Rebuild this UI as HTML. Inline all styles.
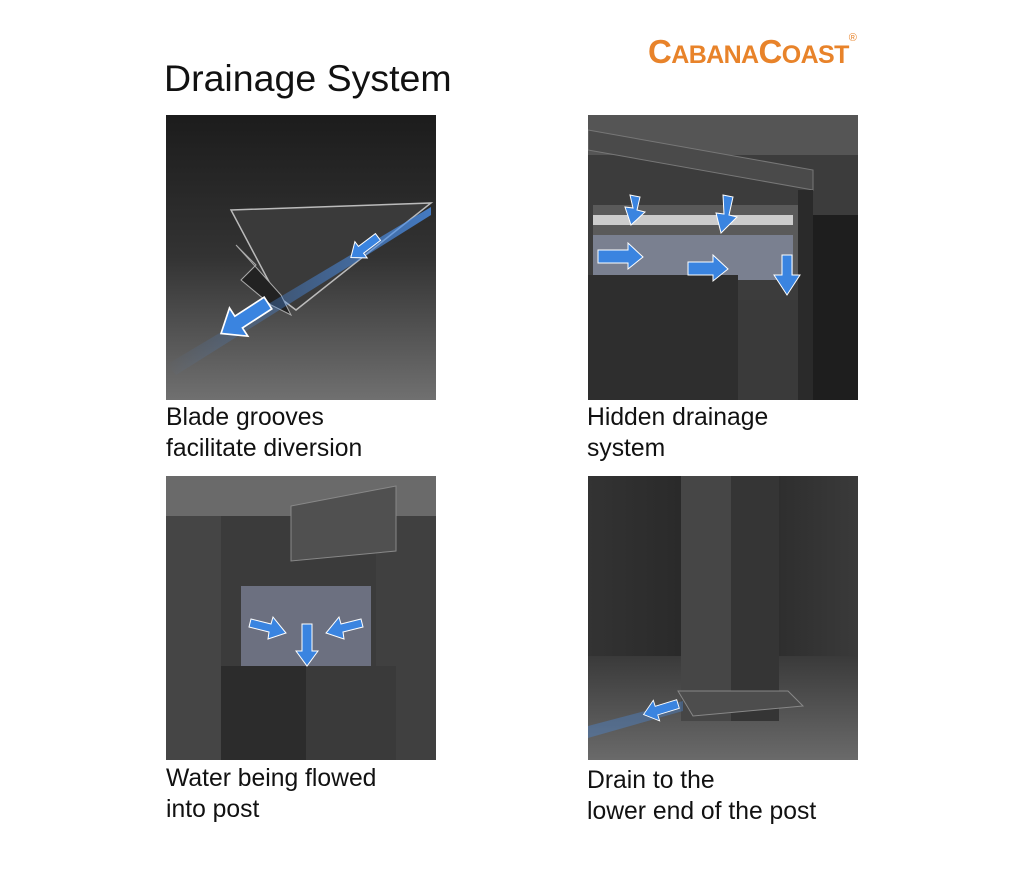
<!DOCTYPE html>
<html><head><style>
body{margin:0;width:1024px;height:878px;background:#fff;position:relative;overflow:hidden;font-family:"Liberation Sans",Arial,sans-serif}
.t{position:absolute;font-size:24.7px;color:#111;line-height:31px}
svg{position:absolute}
</style></head><body>
<div style="position:absolute;left:648px;top:30px;color:#e8832a;font-weight:bold;font-size:33px;letter-spacing:-0.6px;line-height:36px">C<span style="font-size:25px">ABANA</span>C<span style="font-size:25px">OAST</span><sup style="font-size:11px;font-weight:normal;position:relative;top:-10px;letter-spacing:0">®</sup></div>
<div style="position:absolute;left:164px;top:57px;font-size:37.5px;color:#111">Drainage System</div>

<svg style="left:166px;top:115px" width="270" height="285">
<defs><linearGradient id="g1" x1="0" y1="0" x2="0" y2="1"><stop offset="0" stop-color="#1c1c1c"/><stop offset="0.5" stop-color="#333"/><stop offset="1" stop-color="#707070"/></linearGradient>
<linearGradient id="b" x1="0" y1="0" x2="1" y2="0"><stop offset="0" stop-color="#4a8ee8" stop-opacity="0"/><stop offset="1" stop-color="#4a8ee8" stop-opacity=".8"/></linearGradient></defs>
<rect width="270" height="285" fill="url(#g1)"/>
<polygon points="65,95 265,88 130,195 110,180" fill="#3a3a3a" stroke="#bbb" stroke-width="1.5"/>
<polygon points="70,130 90,150 75,165 105,190 125,200 115,180" fill="#222" stroke="#aaa"/>
<polygon points="0,250 265,92 265,100 10,260" fill="url(#b)"/>
<g fill="#3a84e0" stroke="#fff" stroke-width="1.2">
<polygon transform="translate(102,188) rotate(147) scale(1.4)" points="0,-5 25,-5 25,-12 40,0 25,12 25,5 0,5"/>
<polygon transform="translate(212,122) rotate(143) scale(0.85)" points="0,-5 25,-5 25,-12 40,0 25,12 25,5 0,5"/>
</g>
</svg>
<div class="t" style="left:166px;top:402px">Blade grooves<br>facilitate diversion</div>

<svg style="left:588px;top:115px" width="270" height="285">
<rect width="270" height="285" fill="#3c3c3c"/>
<rect width="270" height="40" fill="#555"/>
<polygon points="0,15 225,55 225,75 0,35" fill="#4a4a4a" stroke="#777"/>
<rect x="5" y="90" width="205" height="70" fill="#5a5a5a"/>
<rect x="5" y="100" width="200" height="10" fill="#ccc"/>
<rect x="5" y="120" width="200" height="45" fill="#7a8090"/>
<rect x="0" y="160" width="150" height="125" fill="#2e2e2e"/>
<rect x="150" y="185" width="70" height="100" fill="#3a3a3a"/>
<rect x="220" y="100" width="50" height="185" fill="#1e1e1e"/>
<rect x="210" y="75" width="15" height="210" fill="#2a2a2a"/>
<g fill="#3a84e0" stroke="#fff"><polygon points="10,135 40,135 40,128 55,142 40,154 40,148 10,148"/><polygon points="100,147 125,147 125,140 140,154 125,166 125,160 100,160"/><polygon points="194,140 204,140 204,160 212,160 199,180 186,160 194,160"/><polygon points="42,80 52,82 49,95 57,97 43,110 37,92 45,93"/><polygon points="135,80 145,82 141,100 149,102 133,118 128,98 136,99"/></g>
</svg>
<div class="t" style="left:587px;top:402px">Hidden drainage<br>system</div>

<svg style="left:166px;top:476px" width="270" height="284">
<rect width="270" height="284" fill="#3b3b3b"/>
<rect width="270" height="40" fill="#6a6a6a"/>
<rect x="0" y="40" width="55" height="244" fill="#454545"/>
<rect x="210" y="40" width="60" height="244" fill="#404040"/>
<rect x="75" y="110" width="130" height="80" fill="#6c7080"/>
<polygon points="55,190 140,190 140,284 55,284" fill="#2c2c2c"/>
<polygon points="140,190 230,190 230,284 140,284" fill="#3a3a3a"/>
<polygon points="125,30 230,10 230,75 125,85" fill="#505050" stroke="#888"/>
<g fill="#3a84e0" stroke="#fff"><polygon points="85,143 105,148 107,141 120,157 102,163 103,156 83,151"/><polygon points="195,143 175,148 173,141 160,157 178,163 177,156 197,151"/><polygon points="136,148 146,148 146,175 152,175 141,190 130,175 136,175"/></g>
</svg>
<div class="t" style="left:166px;top:763px">Water being flowed<br>into post</div>

<svg style="left:588px;top:476px" width="270" height="284">
<defs><linearGradient id="g4" x1="0" y1="0" x2="1" y2="0"><stop offset="0" stop-color="#333"/><stop offset="0.5" stop-color="#262626"/><stop offset="1" stop-color="#3a3a3a"/></linearGradient>
<linearGradient id="f4" x1="0" y1="0" x2="0" y2="1"><stop offset="0" stop-color="#3a3a3a"/><stop offset="1" stop-color="#6a6a6a"/></linearGradient></defs>
<rect width="270" height="284" fill="url(#g4)"/>
<rect x="0" y="180" width="270" height="104" fill="url(#f4)"/>
<rect x="93" y="0" width="50" height="245" fill="#464646"/>
<rect x="143" y="0" width="48" height="245" fill="#353535"/>
<polygon points="90,215 200,215 215,230 105,240" fill="#4d4d4d" stroke="#888"/>
<polygon points="0,250 95,225 95,235 0,262" fill="#4a8ee8" opacity=".35"/>
<polygon transform="translate(90,228) rotate(163) scale(0.9)" fill="#3a84e0" stroke="#fff" points="0,-5 25,-5 25,-12 40,0 25,12 25,5 0,5"/>
</svg>
<div class="t" style="left:587px;top:765px">Drain to the<br>lower end of the post</div>
</body></html>
